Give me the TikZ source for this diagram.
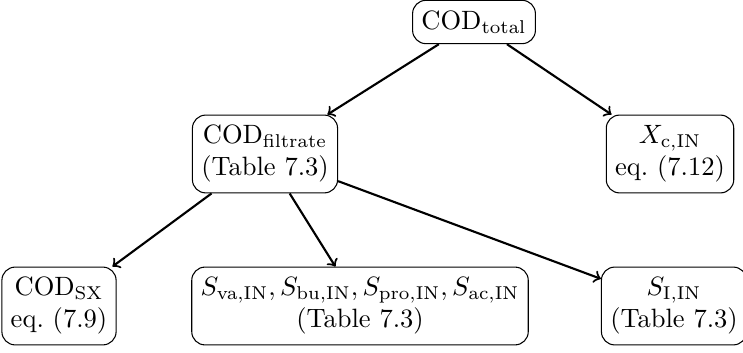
\documentclass[tikz,border=0pt]{standalone}
\begin{document}
\begin{tikzpicture}[x=0.377pt,y=-0.377pt,
  box/.style={draw,rounded corners=5pt,align=center,line width=0.4pt,inner ysep=4pt},
  link/.style={->,thick}]
\useasboundingbox (0,0) rectangle (743,353);
\node[box] (tot) at (474,22) {$\mathrm{COD}_{\mathrm{total}}$};
\node[box] (fil) at (265,154) {$\mathrm{COD}_{\mathrm{filtrate}}$\\(Table 7.3)};
\node[box] (xc) at (670,154) {$X_{\mathrm{c,IN}}$\\eq.\ (7.12)};
\node[box] (sx) at (59,306) {$\mathrm{COD}_{\mathrm{SX}}$\\eq.\ (7.9)};
\node[box] (sv) at (360,306) {$S_{\mathrm{va,IN}},S_{\mathrm{bu,IN}},S_{\mathrm{pro,IN}},S_{\mathrm{ac,IN}}$\\(Table 7.3)};
\node[box] (si) at (674,306) {$S_{\mathrm{I,IN}}$\\(Table 7.3)};
\draw[link] (tot) -- (fil);
\draw[link] (tot) -- (xc);
\draw[link] (fil) -- (sx);
\draw[link] (fil) -- (sv);
\draw[link] (fil) -- (si);
\end{tikzpicture}
\end{document}
